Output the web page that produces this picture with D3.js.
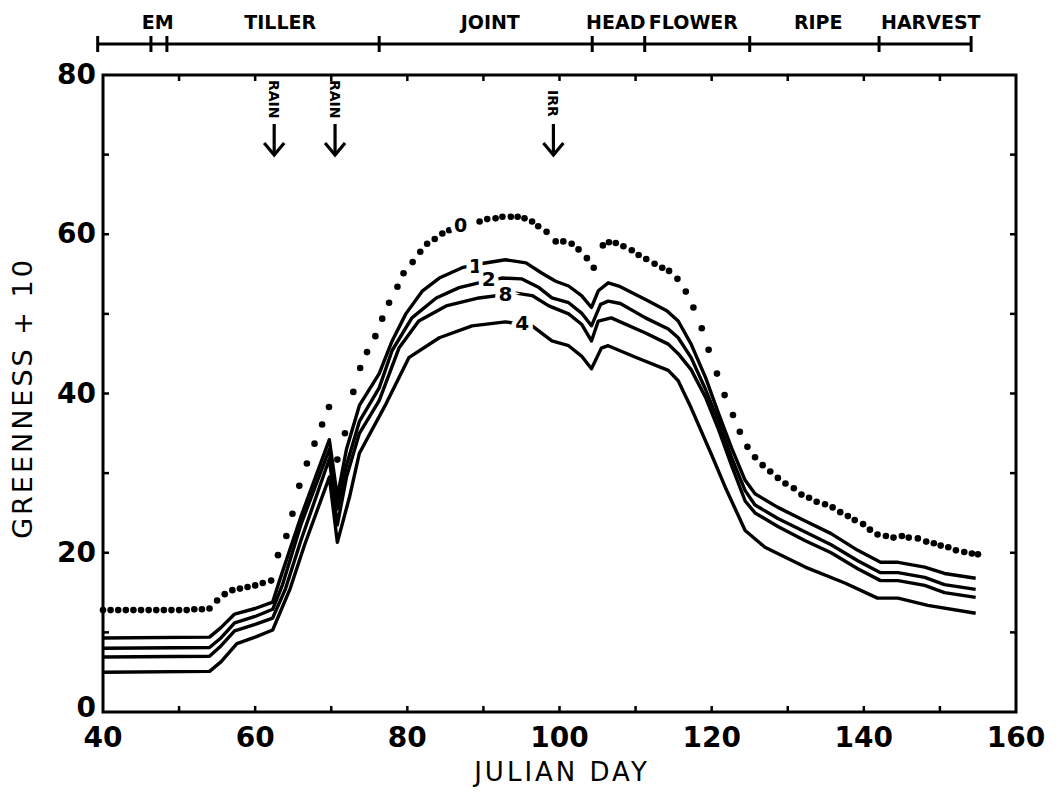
<!DOCTYPE html>
<html>
<head>
<meta charset="utf-8">
<script src="https://cdn.jsdelivr.net/npm/d3@7"></script>
<style>
  body { margin: 0; background: #fff; }
  text { font-family: "DejaVu Sans", sans-serif; fill: #000; }
</style>
</head>
<body>
<div id="chart"></div>
<script>
// curve "0" is plotted as dots, one per day
var dotted = [
  [40,12.8],[41,12.8],[42,12.8],[43,12.8],[44,12.8],[45,12.8],[46,12.8],[47,12.8],
  [48,12.8],[49,12.8],[50,12.8],[51,12.8],[52,12.9],[53,12.9],[54,13.0],
  [55,14.0],[56,14.8],[57,15.3],[58,15.5],[59,15.7],[60,15.9],[61,16.2],[62.1,16.5],
  [63,19.7],[64.1,22.1],[64.9,24.9],[65.8,28.4],[66.8,31.2],[67.8,33.7],[68.8,36.1],
  [69.7,38.3],[70.8,31.7],[71.8,35.0],[72.9,40.2],[73.8,43.2],[74.7,45.2],[75.8,47.2],
  [76.7,49.4],[77.6,51.4],[78.7,53.4],[79.5,55.1],[80.7,56.5],[81.7,57.8],[82.6,58.8],
  [83.6,59.4],[84.6,60.1],[85.5,60.5],
  [89.5,61.6],[90.5,61.9],[91.6,62.0],[92.5,62.2],[93.6,62.2],[94.5,62.2],[95.4,62.0],
  [96.4,61.6],[97.2,61.0],[98.3,60.3],[99.5,59.1],[100.5,59.1],[101.6,58.8],[102.5,58.1],
  [103.6,57.0],[104.5,55.8],
  [105.7,58.6],[106.5,59.0],[107.4,58.9],[108.4,58.5],[109.5,58.0],[110.4,57.4],
  [111.4,56.9],[112.5,56.3],[113.5,55.8],[114.4,55.4],[115.5,54.4],[116.6,52.8],
  [117.6,50.8],[118.7,48.2],[119.6,45.5],[120.7,42.5],[121.7,39.8],[122.8,37.3],
  [123.7,35.2],[124.7,33.3],[125.7,32.0],[126.7,31.0],[127.7,30.2],[128.7,29.4],
  [129.7,28.7],[130.8,28.1],[131.8,27.3],[132.8,26.9],[133.8,26.4],[134.9,26.1],
  [135.9,25.7],[136.9,25.1],[137.9,24.6],[138.8,24.1],[139.9,23.6],[140.8,22.9],
  [141.8,22.3],[142.9,22.1],[143.9,21.9],[145.0,22.1],[145.9,21.9],[147.1,21.8],
  [148.2,21.4],[149.2,21.2],[150.1,20.9],[151.1,20.7],[152.1,20.3],[153.2,20.1],
  [154.2,19.9],[155.0,19.8]
];

var curve1 = [
  [40,9.3],[54,9.4],[55.5,10.6],[57.3,12.3],[60,13.0],[62.3,13.8],[63.2,16.5],[66,24.5],
  [69.75,34.2],[70.8,27],[72,33],[73.7,38.5],[76.3,42.5],[78,46.6],[79.8,50],[82,52.9],
  [84.2,54.5],[87.2,55.8],[89.6,56.3],[92.9,56.8],[95.6,56.4],[97.7,55.1],[99.5,54.1],
  [101.2,53.5],[102.9,52.3],[104.2,50.8],[105.1,52.9],[106.4,53.9],[107.8,53.5],
  [111.3,51.8],[114.1,50.4],[115.6,49.1],[117.3,46.2],[119.2,42],[120.9,37.5],
  [122.6,33.2],[124.4,29.1],[125.7,27.4],[128.7,25.7],[132.3,24],[135.7,22.4],
  [139.2,20.3],[142.2,18.8],[144.5,18.8],[148,18.2],[150.6,17.4],[154.7,16.8]
];
var curve2 = [
  [40,8.0],[54,8.1],[55.5,9.3],[57.3,11.2],[60,12.0],[62.3,12.9],[63.6,16],[66,23.5],
  [69.75,33],[70.8,25.5],[72,31],[73.7,36.5],[76.3,40.7],[78,45.4],[80.6,49.5],[83.8,52],
  [86.8,53.3],[89.4,53.9],[92.4,54.5],[95,54.4],[97.3,53.3],[99,52],[101.2,51.4],
  [102.9,50.1],[104.2,48.5],[105.4,51.2],[106.4,51.6],[108,51.3],[111.3,49.5],
  [114.3,48.1],[115.6,47],[117.3,44.5],[119.2,40.5],[120.9,36.5],[122.6,32],
  [124.4,27.8],[125.7,26],[128.7,24.3],[132.3,22.6],[135.7,21],[139.2,19],[142.2,17.5],
  [144.5,17.5],[148,16.9],[150.6,16],[154.7,15.4]
];
var curve3 = [
  [40,6.9],[54,7.0],[55.5,8.3],[57.3,10.2],[60,11.0],[62.3,11.8],[64,15.5],[66,21.5],
  [69.75,31.8],[70.8,23.5],[72,29.5],[73.7,35],[76.3,39.1],[78.9,45.7],[81.5,49.1],
  [85.1,51],[89.4,52],[94.3,52.6],[96.4,52.3],[98.6,51],[101.2,50],[102.9,48.7],
  [104.2,46.6],[105.1,49.1],[106.8,49.5],[111.3,47.6],[114.3,46.2],[115.6,45],
  [117.3,43],[119.2,39.5],[120.9,35.5],[122.6,31],[124.4,26.5],[125.7,25],[128.7,23.3],
  [132.3,21.5],[135.7,20],[139.2,18],[142.2,16.5],[144.5,16.5],[148,15.9],[150.6,15],
  [154.7,14.4]
];
var curve4 = [
  [40,5.0],[54,5.1],[55.5,6.3],[57.6,8.6],[60,9.4],[62.3,10.3],[64.6,15.5],[66.5,21],
  [69.75,29.5],[70.8,21.3],[72.4,27],[73.7,32.5],[77.2,38.7],[80.2,44.5],[84.2,47],
  [88.5,48.5],[92.9,49],[96.4,48.5],[99,46.6],[101.2,46],[102.9,44.7],[104.2,43.1],
  [105.5,45.7],[106.4,46],[110.4,44.4],[114.3,42.9],[115.6,41.6],[117.3,38.2],
  [119.9,32.5],[121.8,28.2],[124.4,22.8],[127,20.7],[132.3,18.2],[137.5,16.2],
  [141.8,14.3],[144.5,14.3],[148.4,13.4],[154.7,12.4]
];

// curve labels: text, day, value
var curveLabels = [["0",87,61.2],["1",89,56.0],["2",90.7,54.4],["8",92.9,52.5],["4",95.1,48.9]];

// growth stages along the top
var stageTicks = [39.3, 46.3, 48.4, 76.3, 104.3, 111.2, 125, 142, 154.1];
var stageNames = ["EM","TILLER","JOINT","HEAD","FLOWER","RIPE","HARVEST"];
var stageLabelDays = [47.2, 63.3, 90.9, 107.4, 117.6, 134, 148.8];

// events marked with arrows
var events = [["RAIN",62.5],["RAIN",70.5],["IRR",99.2]];

var xTicks = [40,60,80,100,120,140,160];
var yTicks = [0,20,40,60,80];

var W = 1064, H = 807;
var svg = d3.select("#chart").append("svg")
  .attr("width", W).attr("height", H)
  .style("background", "#fff");

var x = d3.scaleLinear().domain([40,160]).range([103,1016]);
var y = d3.scaleLinear().domain([0,80]).range([712,75]);

// frame
svg.append("rect")
  .attr("x", x(40)).attr("y", y(80))
  .attr("width", x(160) - x(40)).attr("height", y(0) - y(80))
  .attr("fill", "none").attr("stroke", "#000").attr("stroke-width", 3);

// inward ticks every 10
var tk = 6;
var minorX = d3.range(50,160,10), minorY = d3.range(10,80,10);
var g = svg.append("g").attr("stroke", "#000").attr("stroke-width", 2.5);
minorX.forEach(function(d) {
  g.append("line").attr("x1", x(d)).attr("x2", x(d)).attr("y1", y(0)).attr("y2", y(0) - tk);
  g.append("line").attr("x1", x(d)).attr("x2", x(d)).attr("y1", y(80)).attr("y2", y(80) + tk);
});
minorY.forEach(function(d) {
  g.append("line").attr("x1", x(40)).attr("x2", x(40) + tk).attr("y1", y(d)).attr("y2", y(d));
  g.append("line").attr("x1", x(160)).attr("x2", x(160) - tk).attr("y1", y(d)).attr("y2", y(d));
});

// tick labels
svg.selectAll(".xl").data(xTicks).enter().append("text")
  .attr("x", function(d) { return x(d); })
  .attr("y", 747)
  .attr("text-anchor", "middle")
  .style("font-size", "28px").style("font-weight", "bold")
  .text(function(d) { return d; });

svg.selectAll(".yl").data(yTicks).enter().append("text")
  .attr("x", 96)
  .attr("y", function(d) { return y(d) + (d == 0 ? 5 : 9); })
  .attr("text-anchor", "end")
  .style("font-size", "28px").style("font-weight", "bold")
  .text(function(d) { return d; });

// axis titles
svg.append("text")
  .attr("transform", "translate(32,398) rotate(-90)")
  .attr("text-anchor", "middle")
  .style("font-size", "27px").style("letter-spacing", "3px")
  .text("GREENNESS + 10");

svg.append("text")
  .attr("x", 562).attr("y", 781)
  .attr("text-anchor", "middle")
  .style("font-size", "26px").style("letter-spacing", "3px")
  .text("JULIAN DAY");

// stage bar
var barY = 44;
svg.append("line")
  .attr("x1", x(stageTicks[0])).attr("x2", x(stageTicks[stageTicks.length - 1]))
  .attr("y1", barY).attr("y2", barY)
  .attr("stroke", "#000").attr("stroke-width", 3);
svg.selectAll(".st").data(stageTicks).enter().append("line")
  .attr("x1", function(d) { return x(d); }).attr("x2", function(d) { return x(d); })
  .attr("y1", barY - 8).attr("y2", barY + 8)
  .attr("stroke", "#000").attr("stroke-width", 3);
svg.selectAll(".sn").data(stageNames).enter().append("text")
  .attr("x", function(d, i) { return x(stageLabelDays[i]); })
  .attr("y", 29)
  .attr("text-anchor", "middle")
  .style("font-size", "19px").style("font-weight", "bold")
  .text(function(d) { return d; });

// event arrows
var ev = svg.selectAll(".ev").data(events).enter().append("g")
  .attr("transform", function(d) { return "translate(" + x(d[1]) + ",0)"; });
ev.append("text")
  .attr("transform", function(d) { return "translate(-5," + (d[0] == "IRR" ? 90 : 80) + ") rotate(90)"; })
  .style("font-size", "14px").style("font-weight", "bold")
  .text(function(d) { return d[0]; });
ev.append("line")
  .attr("x1", 0).attr("x2", 0)
  .attr("y1", 124).attr("y2", 154)
  .attr("stroke", "#000").attr("stroke-width", 3.2);
ev.append("path")
  .attr("d", "M-10,143 L0,155 L10,143")
  .attr("fill", "none").attr("stroke", "#000").attr("stroke-width", 3.2)
  .attr("stroke-linejoin", "miter");

// solid curves
var line = d3.line()
  .x(function(d) { return x(d[0]); })
  .y(function(d) { return y(d[1]); });

[curve1, curve2, curve3, curve4].forEach(function(c) {
  svg.append("path")
    .attr("d", line(c))
    .attr("fill", "none").attr("stroke", "#000")
    .attr("stroke-width", 3.4).attr("stroke-linejoin", "round");
});

// dotted curve
svg.selectAll(".dot").data(dotted).enter().append("circle")
  .attr("cx", function(d) { return x(d[0]); })
  .attr("cy", function(d) { return y(d[1]); })
  .attr("r", 3.3)
  .attr("fill", "#000");

// curve labels with white halo to break lines
svg.selectAll(".cl").data(curveLabels).enter().append("text")
  .attr("x", function(d) { return x(d[1]); })
  .attr("y", function(d) { return y(d[2]) + 7; })
  .attr("text-anchor", "middle")
  .style("font-size", function(d) { return d[0] == "0" ? "19px" : "20px"; })
  .style("font-weight", "bold")
  .style("stroke", "#fff").style("stroke-width", "9px")
  .style("paint-order", "stroke")
  .text(function(d) { return d[0]; });
</script>
</body>
</html>
